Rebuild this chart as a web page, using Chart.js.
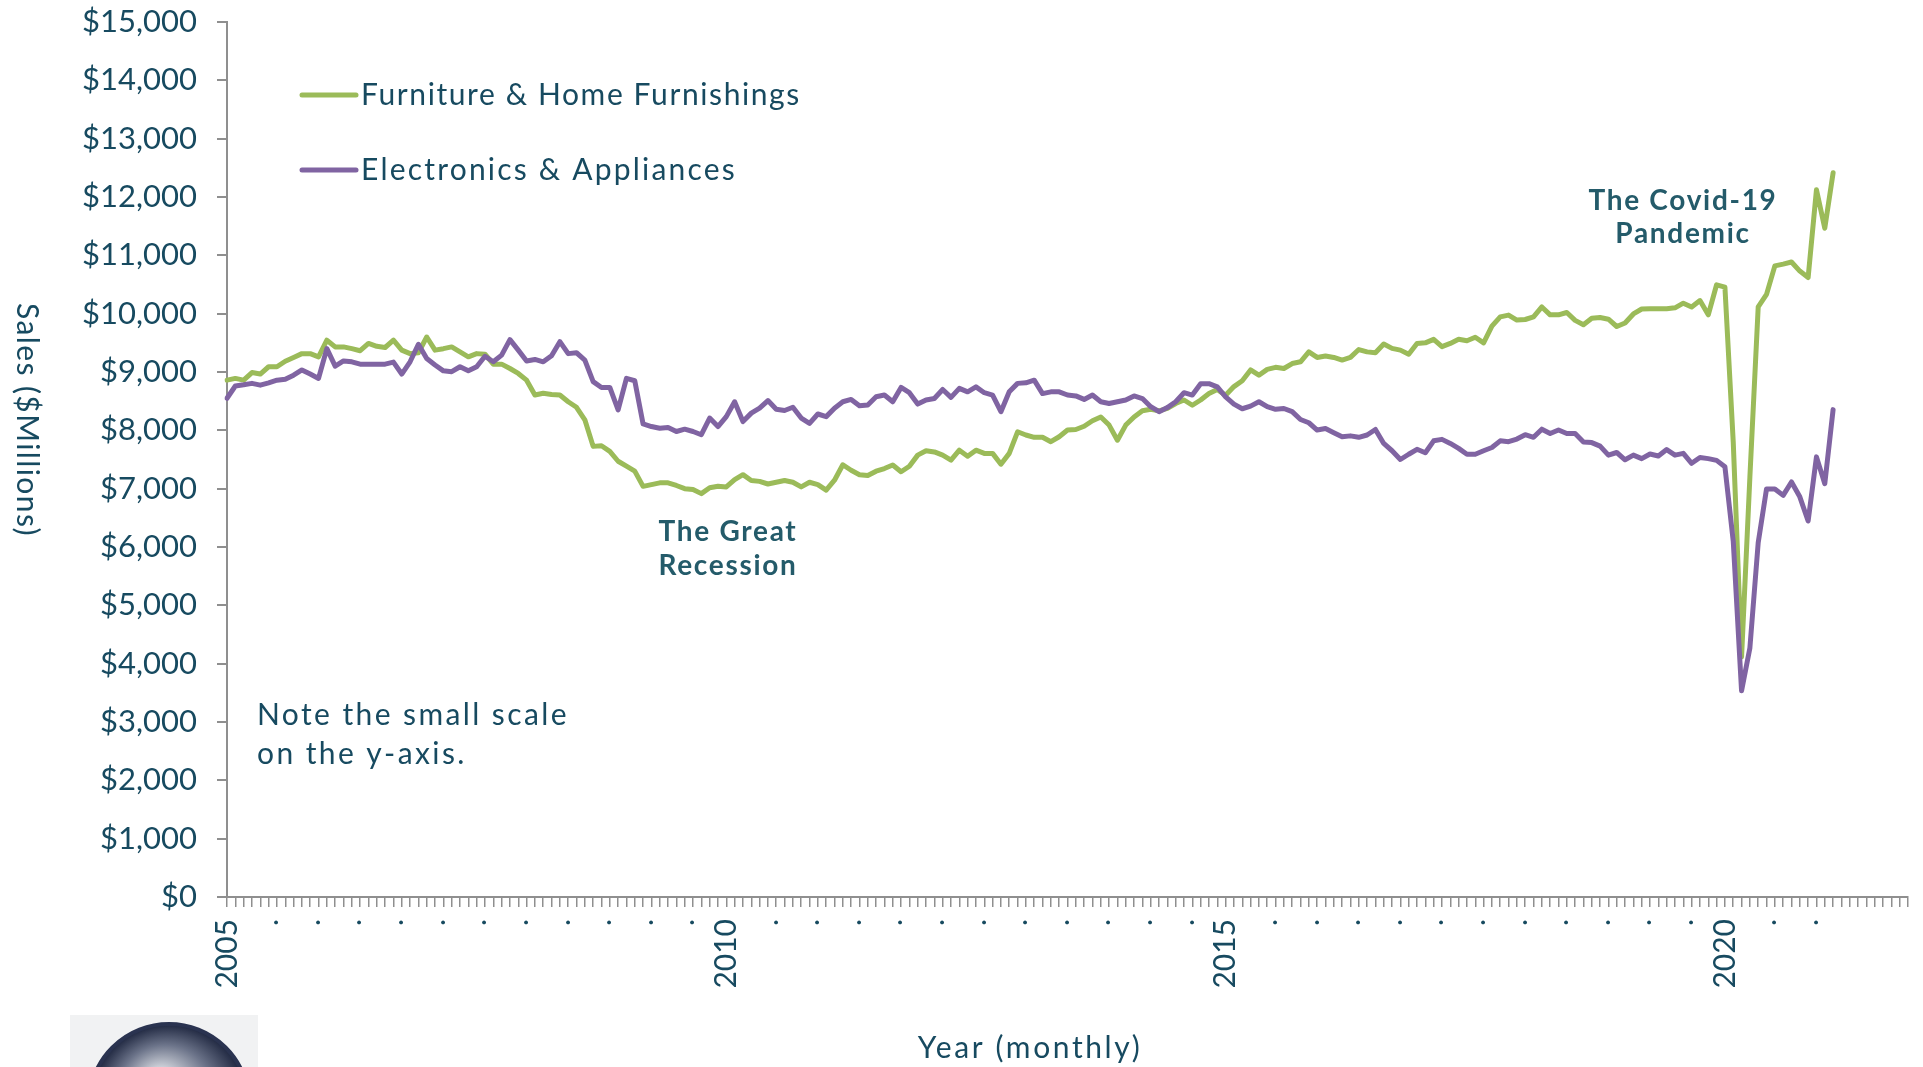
<!DOCTYPE html>
<html>
<head>
<meta charset="utf-8">
<title>Furniture vs Electronics Sales</title>
<script src="https://cdn.jsdelivr.net/npm/chart.js@4.4.1/dist/chart.umd.min.js"></script>
<style>
  html, body { margin: 0; padding: 0; background: #fff; }
  #wrap { position: relative; width: 1923px; height: 1067px; }
</style>
</head>
<body>
<div id="wrap"><canvas id="salesChart"></canvas></div>
<script>
// Monthly sales in $ millions, starting Jan 2005
const furniture = [
  8860, 8890, 8860, 8990, 8965, 9090, 9090, 9185, 9250, 9315, 9315, 9260,
  9545, 9430, 9430, 9400, 9365, 9490, 9440, 9420, 9545, 9375, 9315, 9330,
  9600, 9375, 9400, 9430, 9345, 9260, 9315, 9305, 9135, 9135, 9060, 8975,
  8860, 8605, 8635, 8615, 8605, 8490, 8395, 8180, 7725, 7735, 7640, 7470,
  7385, 7300, 7040, 7070, 7100, 7100, 7055, 7000, 6985, 6915, 7015, 7040,
  7030, 7155, 7240, 7140, 7125, 7080, 7110, 7140, 7110, 7030, 7110, 7070,
  6975, 7145, 7410, 7315, 7240, 7225, 7300, 7345, 7405, 7290, 7385, 7575,
  7650, 7630, 7575, 7490, 7660, 7555, 7660, 7605, 7605, 7420, 7605, 7975,
  7920, 7880, 7880, 7805, 7890, 8005, 8015, 8070, 8165, 8230, 8090, 7830,
  8090, 8230, 8335, 8360, 8335, 8375, 8460, 8520, 8430, 8520, 8630, 8700,
  8600, 8750, 8850, 9035, 8945, 9045, 9080, 9060, 9145, 9175, 9345, 9250,
  9275, 9250, 9205, 9250, 9385, 9345, 9330, 9480, 9405, 9375, 9305, 9490,
  9500, 9560, 9435, 9490, 9560, 9535, 9595, 9500, 9785, 9945, 9975, 9890,
  9900, 9945, 10115, 9980, 9980, 10020, 9885, 9810, 9920, 9935, 9905, 9780,
  9840, 9995, 10080, 10085, 10085, 10085, 10100, 10180, 10115, 10225, 9980, 10495,
  10455, 7800, 4115, 7200, 10115, 10330, 10820, 10850, 10885, 10730, 10620, 12125,
  11465, 12415
];

const electronics = [
  8550, 8760, 8780, 8805, 8775, 8815, 8860, 8875, 8945, 9035, 8965, 8890,
  9400, 9100, 9190, 9175, 9135, 9135, 9135, 9135, 9170, 8965, 9175, 9475,
  9230, 9120, 9020, 9005, 9090, 9020, 9090, 9270, 9175, 9290, 9555, 9375,
  9190, 9215, 9175, 9280, 9520, 9315, 9330, 9205, 8835, 8735, 8735, 8350,
  8890, 8850, 8110, 8065, 8035, 8050, 7980, 8020, 7980, 7925, 8210, 8065,
  8235, 8490, 8150, 8295, 8380, 8510, 8360, 8340, 8395, 8210, 8120, 8280,
  8235, 8380, 8490, 8530, 8420, 8435, 8575, 8605, 8490, 8735, 8645, 8450,
  8520, 8545, 8700, 8565, 8720, 8660, 8745, 8645, 8605, 8320, 8660, 8805,
  8815, 8860, 8630, 8660, 8660, 8605, 8590, 8530, 8605, 8490, 8460, 8490,
  8520, 8590, 8545, 8405, 8320, 8390, 8490, 8645, 8605, 8800, 8800, 8745,
  8575, 8450, 8370, 8415, 8490, 8405, 8360, 8375, 8320, 8185, 8130, 8005,
  8030, 7960, 7890, 7905, 7880, 7920, 8015, 7775, 7650, 7500, 7590, 7675,
  7615, 7820, 7845, 7775, 7690, 7590, 7590, 7650, 7705, 7820, 7805, 7850,
  7925, 7880, 8020, 7945, 8005, 7945, 7945, 7800, 7790, 7730, 7575, 7620,
  7495, 7575, 7515, 7595, 7560, 7670, 7575, 7605, 7435, 7535, 7515, 7485,
  7375, 6100, 3535, 4270, 6075, 6995, 6995, 6885, 7115, 6860, 6445, 7545,
  7085, 8355
];

const seriesNames = ['Furniture & Home Furnishings', 'Electronics & Appliances'];
const yearTicks = ['2005', '2010', '2015', '2020'];   // shown every 60 months
const firstYear = 2005;
const monthCount = 203;                              // Jan 2005 .. Nov 2021 on the axis

// one category per month
const months = [];
for (let i = 0; i < monthCount; i++) {
  months.push((firstYear + Math.floor(i / 12)) + '-' + String(i % 12 + 1).padStart(2, '0'));
}
const lastIdx = furniture.length - 1;

const TEXT = '#174a60';
const NOTE = '#245b6a';
const AXIS = '#8f8f8f';
const FONT = 'Lato, "Open Sans", sans-serif';

// extra text: legend, notes, axis titles, logo
const overlay = {
  id: 'overlay',
  afterDraw(chart) {
    const ctx = chart.ctx;
    ctx.save();

    // legend (inside plot, top-left)
    const spacing = ['1.6px', '2.2px'];
    chart.data.datasets.forEach((ds, i) => {
      const yy = 95 + i * 75;
      ctx.strokeStyle = ds.borderColor;
      ctx.lineWidth = 5;
      ctx.lineCap = 'round';
      ctx.beginPath();
      ctx.moveTo(302, yy);
      ctx.lineTo(356, yy);
      ctx.stroke();
      ctx.fillStyle = TEXT;
      ctx.font = '30px ' + FONT;
      ctx.letterSpacing = spacing[i];
      ctx.textAlign = 'left';
      ctx.textBaseline = 'alphabetic';
      ctx.fillText(ds.label, 361, yy + 10);
    });

    // note
    ctx.fillStyle = TEXT;
    ctx.font = '30px ' + FONT;
    ctx.letterSpacing = '2.4px';
    ctx.fillText('Note the small scale', 257, 725);
    ctx.fillText('on the y-axis.', 257, 764);

    // event labels
    ctx.fillStyle = NOTE;
    ctx.font = 'bold 28px ' + FONT;
    ctx.letterSpacing = '1.7px';
    ctx.textAlign = 'center';
    ctx.fillText('The Great', 728, 541);
    ctx.fillText('Recession', 728, 575);
    ctx.fillText('The Covid-19', 1683, 210);
    ctx.fillText('Pandemic', 1683, 243);

    // axis titles
    ctx.fillStyle = TEXT;
    ctx.font = '30px ' + FONT;
    ctx.letterSpacing = '2.6px';
    ctx.fillText('Year (monthly)', 1030, 1058);
    ctx.letterSpacing = '1.4px';
    ctx.translate(27, 420);
    ctx.rotate(Math.PI / 2);
    ctx.textBaseline = 'middle';
    ctx.fillText('Sales ($Millions)', 0, 0);
    ctx.setTransform(1, 0, 0, 1, 0, 0);
    ctx.letterSpacing = '0px';

    // logo stand-in (globe, cut off at bottom)
    ctx.fillStyle = '#f1f2f3';
    ctx.fillRect(70, 1015, 188, 52);
    const g = ctx.createRadialGradient(160, 1080, 10, 169, 1104, 80);
    g.addColorStop(0, '#d9dce2');
    g.addColorStop(0.55, '#6b7389');
    g.addColorStop(1, '#1f2740');
    ctx.fillStyle = g;
    ctx.beginPath();
    ctx.arc(169, 1104, 80, 0, Math.PI * 2);
    ctx.fill();
    ctx.strokeStyle = '#2a3350';
    ctx.lineWidth = 4;
    ctx.stroke();

    ctx.restore();
  }
};

new Chart(document.getElementById('salesChart'), {
  type: 'line',
  data: {
    labels: months,
    datasets: [{
      label: seriesNames[0],
      data: furniture,
      borderColor: '#9bbb59',
      borderWidth: 5,
      pointRadius: 0,
      tension: 0,
      borderJoinStyle: 'round',
      borderCapStyle: 'round',
      order: 2
    }, {
      label: seriesNames[1],
      data: electronics,
      borderColor: '#8064a2',
      borderWidth: 5,
      pointRadius: 0,
      tension: 0,
      borderJoinStyle: 'round',
      borderCapStyle: 'round',
      order: 1
    }]
  },
  options: {
    responsive: true,
    maintainAspectRatio: false,
    animation: false,
    layout: { padding: { top: 22, right: 15, bottom: 0, left: 0 } },
    plugins: { legend: { display: false }, tooltip: { enabled: false } },
    scales: {
      x: {
        type: 'category',
        offset: false,
        grid: { drawOnChartArea: false, drawTicks: true, tickLength: 10, color: AXIS, lineWidth: 1.5 },
        border: { display: true, color: AXIS, width: 2 },
        ticks: {
          autoSkip: false,
          maxRotation: 90,
          minRotation: 90,
          padding: 12,
          color: TEXT,
          font: { family: FONT, size: 30 },
          callback: (value, index) => {
            if (index % 5 !== 0 || index > lastIdx) return '';
            return index % 60 === 0 ? yearTicks[index / 60] : '.';
          }
        },
        afterFit: s => { s.height = 170; s.paddingLeft = 0; s.paddingRight = 0; }
      },
      y: {
        min: 0,
        max: 15000,
        grid: { drawOnChartArea: false, drawTicks: true, tickLength: 10, color: AXIS, lineWidth: 2 },
        border: { display: true, color: AXIS, width: 2 },
        ticks: {
          stepSize: 1000,
          padding: 20,
          color: TEXT,
          font: { family: FONT, size: 31 },
          callback: v => '$' + v.toLocaleString('en-US')
        },
        afterFit: s => { s.width = 227; s.paddingTop = 0; s.paddingBottom = 0; }
      }
    }
  },
  plugins: [overlay]
});
</script>
</body>
</html>
